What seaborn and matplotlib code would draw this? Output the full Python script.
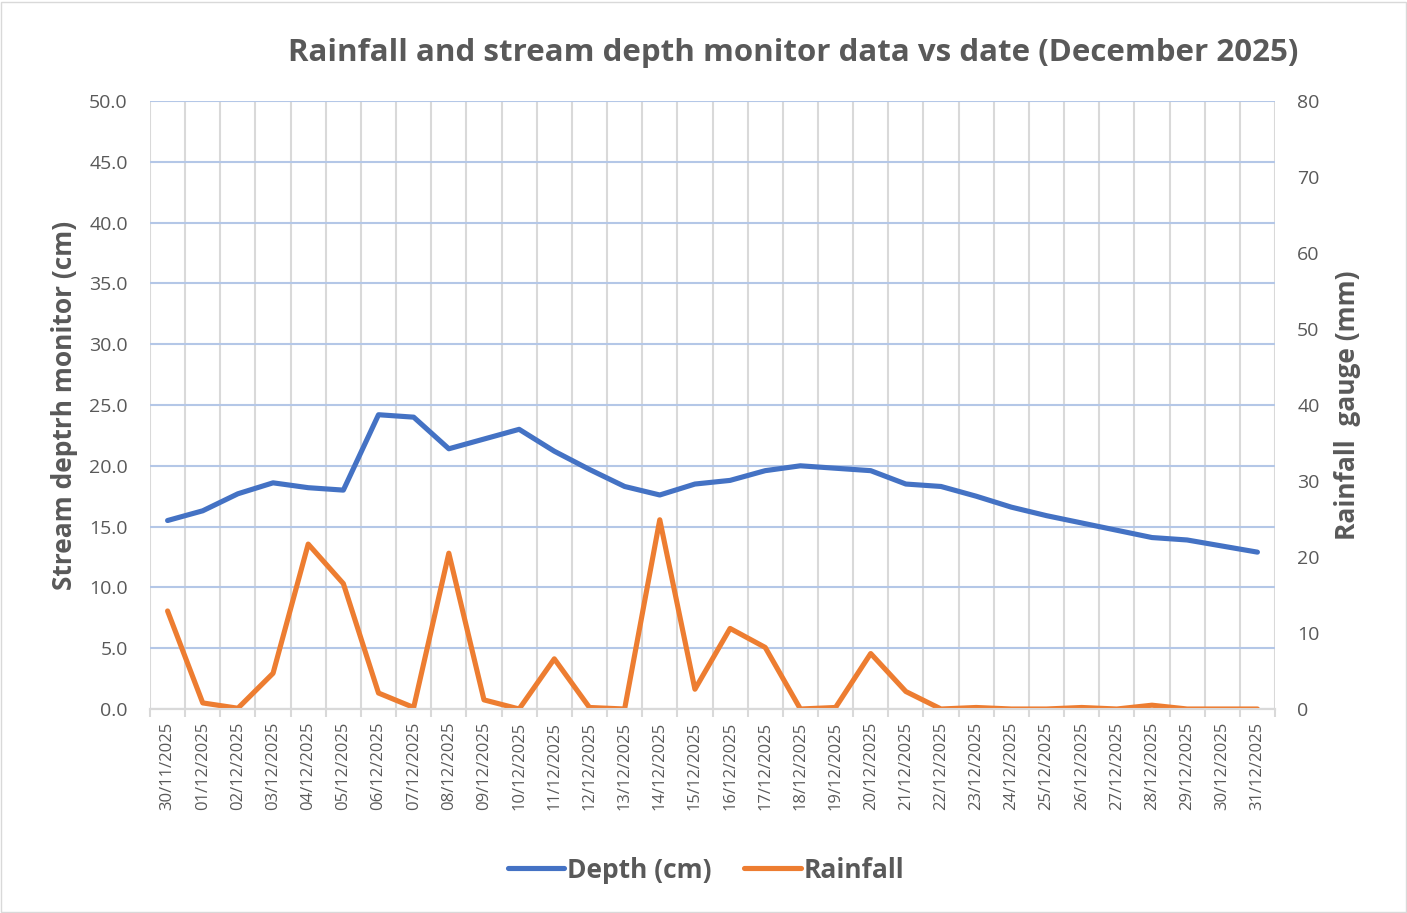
import matplotlib
matplotlib.use("Agg")
import matplotlib.pyplot as plt
import seaborn as sns
import pandas as pd
import numpy as np
from matplotlib.lines import Line2D
from matplotlib.patches import Rectangle

# Chart data
dates = ["30/11/2025"] + [f"{d:02d}/12/2025" for d in range(1, 32)]
depth_cm = [15.5, 16.3, 17.7, 18.6, 18.2, 18.0, 24.2, 24.0, 21.4, 22.2, 23.0,
            21.2, 19.7, 18.3, 17.6, 18.5, 18.8, 19.6, 20.0, 19.8, 19.6, 18.5,
            18.3, 17.5, 16.6, 15.9, 15.3, 14.7, 14.1, 13.9, 13.4, 12.9]
rainfall_mm = [12.9, 0.8, 0.1, 4.7, 21.7, 16.5, 2.1, 0.2, 20.5, 1.2, 0.0,
               6.6, 0.2, 0.0, 24.9, 2.6, 10.6, 8.1, 0.0, 0.2, 7.3, 2.3,
               0.0, 0.2, 0.0, 0.0, 0.2, 0.0, 0.5, 0.0, 0.0, 0.0]

BLUE = "#4472C4"
ORANGE = "#ED7D31"
GREY_TXT = "#595959"

df = pd.DataFrame({"idx": np.arange(len(dates)), "date": dates,
                   "depth": depth_cm, "rain": rainfall_mm})

sns.set_style("white")
plt.rcParams["font.family"] = ["Open Sans", "DejaVu Sans"]

fig = plt.figure(figsize=(14.07, 9.13), dpi=100)
ax = fig.add_axes([150 / 1407, 1 - 709 / 913, 1125 / 1407, 608 / 913])
ax2 = ax.twinx()

# grid: light blue horizontals, grey verticals between categories
ax.set_ylim(0, 50)
ax.set_yticks(np.arange(0, 50.1, 5))
ax.yaxis.grid(True, color="#B4C7E7", lw=1.5)
ax.set_xlim(-0.5, len(dates) - 0.5)
ax.set_xticks(np.arange(len(dates)))
ax.set_xticks(np.arange(-0.5, len(dates), 1), minor=True)
ax.xaxis.grid(True, which="minor", color="#D9D9D9", lw=1.5)
ax.set_axisbelow(True)

sns.lineplot(data=df, x="idx", y="depth", ax=ax, color=BLUE, lw=3.7,
             solid_joinstyle="round", solid_capstyle="round")
sns.lineplot(data=df, x="idx", y="rain", ax=ax2, color=ORANGE, lw=3.7,
             solid_joinstyle="round", solid_capstyle="round")

ax2.set_ylim(0, 80)
ax2.set_yticks(np.arange(0, 81, 10))

ax.set_xticklabels(dates, rotation=90, fontsize=12, color=GREY_TXT)
ax.set_yticklabels([f"{v:.1f}" for v in np.arange(0, 50.1, 5)],
                   fontsize=14, color=GREY_TXT)
ax2.set_yticklabels([str(v) for v in range(0, 81, 10)], fontsize=14,
                    color=GREY_TXT)

ax.tick_params(axis="x", which="major", length=0, pad=9)
ax.tick_params(axis="x", which="minor", length=6, color="#D9D9D9", width=1.5,
               direction="out", bottom=True)
ax.tick_params(axis="y", length=0, pad=16)
ax2.tick_params(axis="y", length=0, pad=16)

for a in (ax, ax2):
    for s in ("top", "left", "right"):
        a.spines[s].set_visible(False)
    a.spines["bottom"].set_color("#D9D9D9")
    a.spines["bottom"].set_linewidth(1.5)
ax2.xaxis.grid(False)
ax2.yaxis.grid(False)

ax.set_xlabel("")
ax.set_ylabel("Stream deptrh monitor (cm)", fontsize=19, fontweight="bold",
              color=GREY_TXT, labelpad=8)
ax2.set_ylabel("Rainfall  gauge (mm)", fontsize=19, fontweight="bold",
               color=GREY_TXT, labelpad=10)

fig.text(793 / 1407, 1 - 53 / 913,
         "Rainfall and stream depth monitor data vs date (December 2025)",
         ha="center", va="center", fontsize=22.5, fontweight="bold",
         color=GREY_TXT)

handles = [Line2D([], [], color=BLUE, lw=3.7, solid_capstyle="round"),
           Line2D([], [], color=ORANGE, lw=3.7, solid_capstyle="round")]
fig.legend(handles, ["Depth (cm)", "Rainfall"], loc="center",
           bbox_to_anchor=(706 / 1407, 1 - 870 / 913), ncol=2, frameon=False,
           prop={"size": 19, "weight": "bold"}, labelcolor=GREY_TXT,
           handlelength=2.15, handletextpad=0.1, columnspacing=1.25)

fig.patches.append(Rectangle((0.001, 0.001), 0.998, 0.997,
                             transform=fig.transFigure, fill=False,
                             edgecolor="#D9D9D9", lw=1))

fig.savefig("out.png", dpi=100)
